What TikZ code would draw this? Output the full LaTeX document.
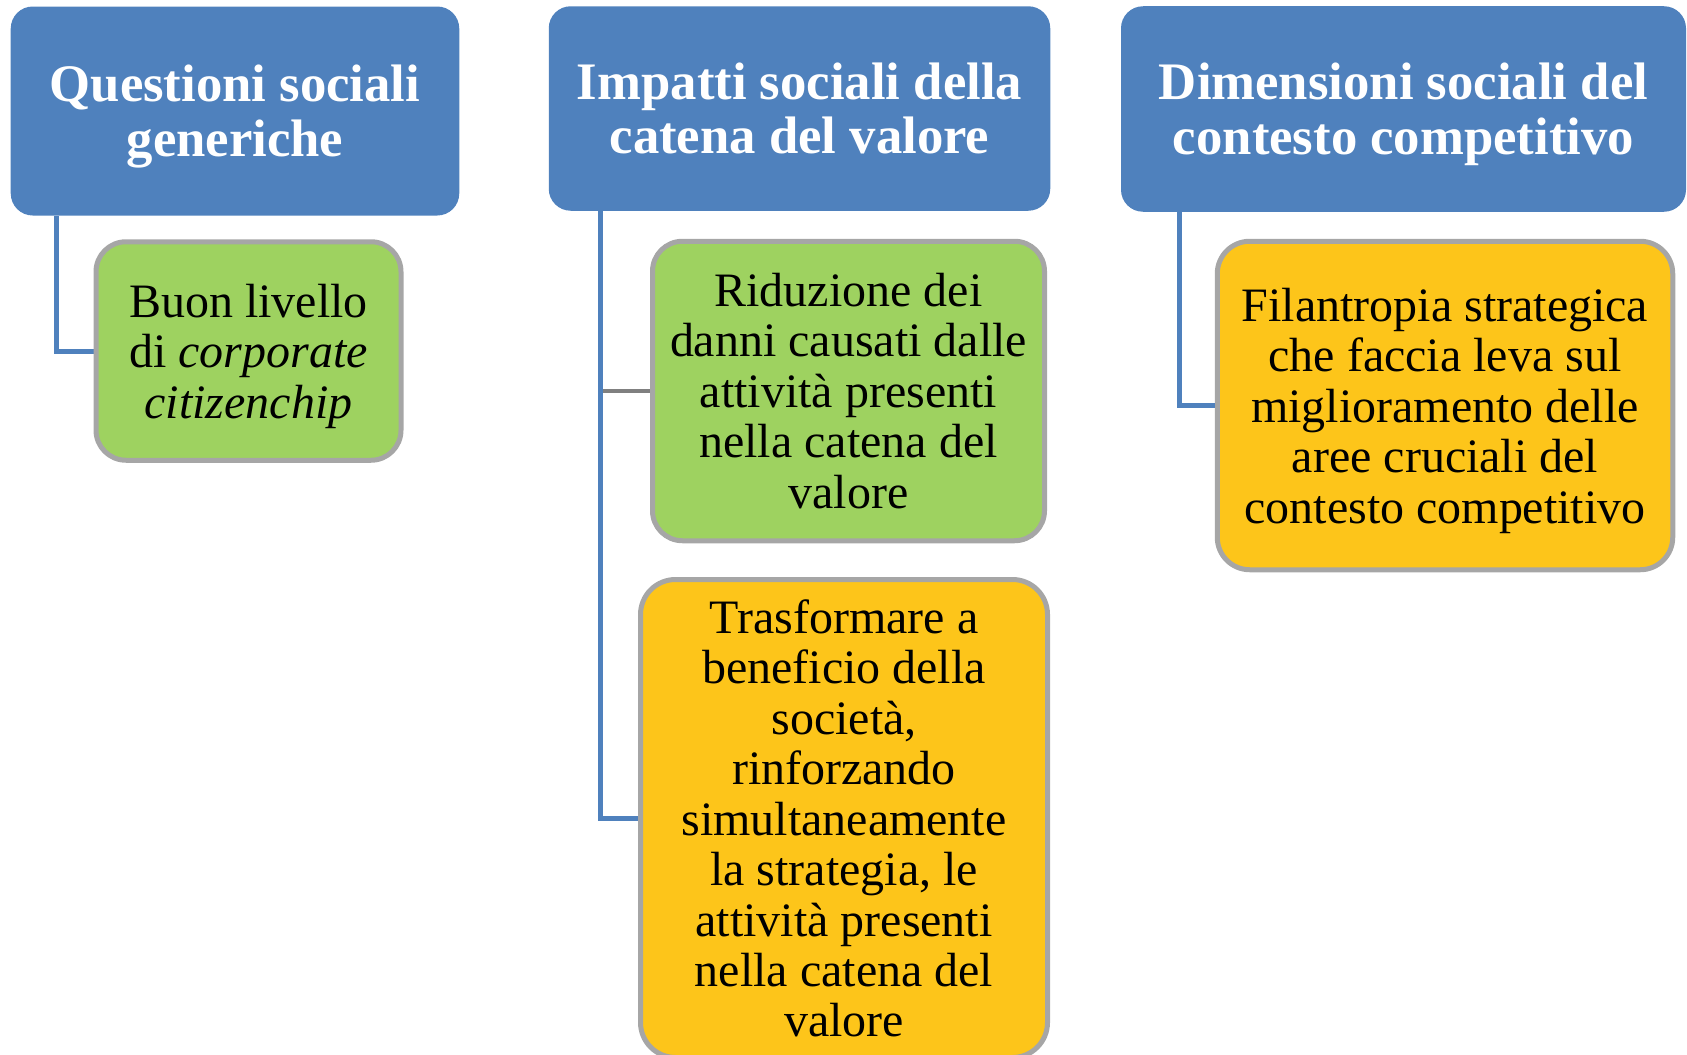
\documentclass[tikz,border=0pt]{standalone}
\usepackage{fontspec}
\setmainfont{Liberation Serif}
\definecolor{headblue}{RGB}{79,129,189}
\definecolor{leafgreen}{RGB}{158,210,96}
\definecolor{leafgold}{RGB}{253,197,26}
\definecolor{rimgray}{RGB}{166,166,166}
\definecolor{stubgray}{RGB}{128,128,128}
\newcommand{\flatdepth}[1]{\raisebox{0pt}[\height][0pt]{#1}}
\begin{document}
\begin{tikzpicture}[
  head/.style={rounded corners=0.44cm, fill=headblue, text=white, align=center,
    inner sep=0pt, font=\fontsize{30}{31.2}\selectfont\bfseries},
  leaf/.style={rounded corners=0.6cm, draw=rimgray, line width=0.1cm, align=center,
    inner sep=0pt, font=\fontsize{27.3}{28.7}\selectfont},
  link/.style={draw=headblue, line width=0.1cm},
  stub/.style={draw=stubgray, line width=0.09cm},
]
  \useasboundingbox (0,0) rectangle (33.74,-21.1);

  % first column
  \node[head, minimum width=8.97cm, minimum height=4.18cm] (head1) at (4.70,-2.22)
    {Questioni sociali\\\flatdepth{generiche}};
  \draw[link] (head1.south west) ++(0.93,0) |- (4.97,-7.02) coordinate (j1);
  \node[leaf, fill=leafgreen, minimum width=6.10cm, minimum height=4.37cm] (green1) at (4.97,-7.02)
    {Buon livello\\di \textit{corporate}\\\flatdepth{\textit{citizenchip}}};

  % second column
  \node[head, minimum width=10.03cm, minimum height=4.09cm] (head2) at (15.99,-2.17)
    {Impatti sociali della\\catena del valore};
  \node[leaf, fill=leafgreen, minimum width=7.84cm, minimum height=5.99cm] (green2) at (16.97,-7.82)
    {Riduzione dei\\danni causati dalle\\attività presenti\\nella catena del\\valore};
  \node[leaf, fill=leafgold, rounded corners=0.7cm, minimum width=8.14cm, minimum height=9.56cm] (gold2) at (16.88,-16.37)
    {Trasformare a\\beneficio della\\società,\\rinforzando\\simultaneamente\\la strategia, le\\attività presenti\\nella catena del\\valore};
  \draw[stub] (green2.west) -- ++(-0.99,0);
  \draw[link] (head2.south west) ++(1.04,0) |- (gold2.west);

  % third column
  \node[head, minimum width=11.30cm, minimum height=4.11cm] (head3) at (28.07,-2.18)
    {Dimensioni sociali del\\\flatdepth{contesto competitivo}};
  \node[leaf, fill=leafgold, rounded corners=0.65cm, minimum width=9.11cm, minimum height=6.57cm] (gold3) at (28.90,-8.11)
    {Filantropia strategica\\che faccia leva sul\\miglioramento delle\\aree cruciali del\\\flatdepth{contesto competitivo}};
  \draw[link] (head3.south west) ++(1.17,0) |- (gold3.west);
\end{tikzpicture}
\end{document}
